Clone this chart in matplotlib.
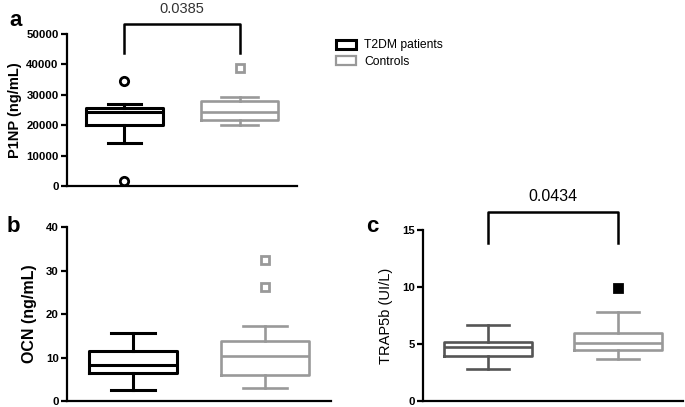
import matplotlib
matplotlib.use("Agg")
import matplotlib.pyplot as plt
from matplotlib.patches import Patch

plt.rcParams['font.family'] = ['Liberation Sans', 'DejaVu Sans']

groups = ["T2DM patients", "Controls"]

# P1NP (ng/mL)
p1np_whislo = [14000, 19900]
p1np_q1 = [20000, 21800]
p1np_med = [24200, 24400]
p1np_q3 = [25800, 28000]
p1np_whishi = [26900, 29400]
p1np_fliers = [[34700, 1500], [38900]]

# OCN (ng/mL)
ocn_whislo = [2.5, 3.0]
ocn_q1 = [6.5, 6.0]
ocn_med = [8.2, 10.4]
ocn_q3 = [11.5, 13.7]
ocn_whishi = [15.7, 17.2]
ocn_fliers = [[], [26.2, 32.5]]

# TRAP5b (UI/L)
trap_whislo = [2.8, 3.65]
trap_q1 = [3.98, 4.47]
trap_med = [4.77, 5.06]
trap_q3 = [5.15, 5.93]
trap_whishi = [6.67, 7.8]
trap_fliers = [[], [9.88]]

p_a = "0.0385"
p_c = "0.0434"


def stats(lo, q1, med, q3, hi, fl):
    return [dict(whislo=lo[i], q1=q1[i], med=med[i], q3=q3[i], whishi=hi[i], fliers=fl[i])
            for i in range(len(lo))]


def draw(ax, st, colors, lw, capw, fmarkers):
    for i, s in enumerate(st):
        c = colors[i]
        fm = fmarkers[i]
        ax.bxp([s], positions=[i + 1], widths=0.67, capwidths=capw[i],
               showfliers=True,
               boxprops=dict(color=c, linewidth=lw[i]),
               medianprops=dict(color=c, linewidth=lw[i]),
               whiskerprops=dict(color=c, linewidth=lw[i]),
               capprops=dict(color=c, linewidth=lw[i]),
               flierprops=dict(marker=fm[0], markerfacecolor=fm[1], markeredgecolor=fm[2],
                               markeredgewidth=2, markersize=6, linestyle='none'))


def style(ax, ymax, yticks):
    ax.set_xlim(0.5, 2.5)
    ax.set_ylim(0, ymax)
    ax.set_yticks(yticks)
    ax.set_xticks([])
    for sp in ['top', 'right']:
        ax.spines[sp].set_visible(False)
    for sp in ['left', 'bottom']:
        ax.spines[sp].set_linewidth(1.6)
    ax.tick_params(axis='y', width=1.6, length=4, labelsize=8.2, pad=2)
    for t in ax.get_yticklabels():
        t.set_fontweight('bold')


fig = plt.figure(figsize=(6.85, 4.07), dpi=100)

# panel a
axa = fig.add_axes([0.0978, 0.543, 0.3358, 0.3735])
draw(axa, stats(p1np_whislo, p1np_q1, p1np_med, p1np_q3, p1np_whishi, p1np_fliers),
     ['black', '#999999'], [2.2, 1.9], [0.28, 0.33],
     [('o', 'white', 'black'), ('s', 'white', '#999999')])
style(axa, 50000, [0, 10000, 20000, 30000, 40000, 50000])
axa.set_ylabel("P1NP (ng/mL)", fontsize=10.5, fontweight='bold', labelpad=3)
axa.plot([1, 1, 2, 2], [43700, 53300, 53300, 43700], color='black', lw=1.8, clip_on=False)
axa.text(1.5, 56000, p_a, ha='center', va='bottom', fontsize=10.5, color='#333333')

# panel b
axb = fig.add_axes([0.0978, 0.0147, 0.3854, 0.4275])
draw(axb, stats(ocn_whislo, ocn_q1, ocn_med, ocn_q3, ocn_whishi, ocn_fliers),
     ['black', '#999999'], [2.2, 1.9], [0.33, 0.33],
     [('o', 'white', 'black'), ('s', 'white', '#999999')])
style(axb, 40, [0, 10, 20, 30, 40])
axb.set_ylabel("OCN (ng/mL)", fontsize=11.5, fontweight='bold', labelpad=6)

# panel c
axc = fig.add_axes([0.6175, 0.0147, 0.3796, 0.420])
draw(axc, stats(trap_whislo, trap_q1, trap_med, trap_q3, trap_whishi, trap_fliers),
     ['#555555', '#999999'], [1.9, 1.9], [0.33, 0.33],
     [('s', 'black', 'black'), ('s', 'black', 'black')])
style(axc, 15, [0, 5, 10, 15])
axc.set_ylabel("TRAP5b (UI/L)", fontsize=10.5, labelpad=6)
axc.plot([1, 1, 2, 2], [13.86, 16.58, 16.58, 13.86], color='black', lw=1.8, clip_on=False)
axc.text(1.5, 17.3, p_c, ha='center', va='bottom', fontsize=11.5, color='black')

# legend
handles = [Patch(facecolor='white', edgecolor='black', linewidth=2.2),
           Patch(facecolor='white', edgecolor='#999999', linewidth=1.6)]
fig.legend(handles, groups, loc='upper left', bbox_to_anchor=(0.475, 0.93), frameon=False,
           fontsize=8.7, handlelength=1.6, handleheight=0.8, handletextpad=0.7,
           labelspacing=0.35)

fig.text(0.013, 0.975, "a", fontsize=16, fontweight='bold', va='top')
fig.text(0.010, 0.47, "b", fontsize=16, fontweight='bold', va='top')
fig.text(0.535, 0.47, "c", fontsize=16, fontweight='bold', va='top')

fig.savefig("out.png", dpi=100)
